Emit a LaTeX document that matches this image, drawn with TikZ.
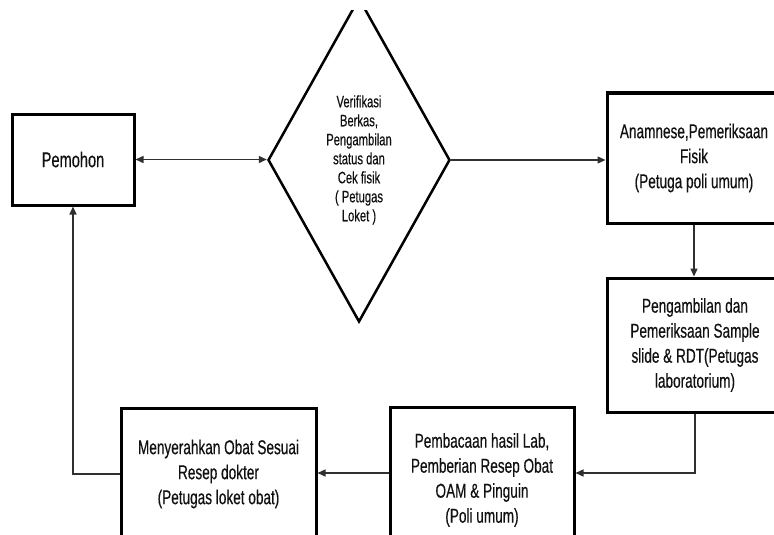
\documentclass[tikz,border=0pt]{standalone}
\usepackage{fontspec}
\setmainfont{Liberation Sans}[FakeStretch=0.68,FakeBold=0.4]
\usetikzlibrary{arrows.meta,shapes.geometric,calc}
\definecolor{txt}{HTML}{111111}
\definecolor{conn}{HTML}{303030}
\tikzset{
  box/.style={draw=black, line width=3pt, inner sep=0pt, text=txt, align=center,
    font=\fontsize{20}{25}\selectfont},
  dia/.style={draw=black, line width=2.5pt, shape=diamond, inner sep=0pt},
  diatext/.style={text=txt, align=center, inner sep=0pt, font=\fontsize{16.5}{19}\selectfont},
  btext/.style={text=txt, align=center, inner sep=0pt, font=\fontsize{20}{25}\selectfont},
  conn/.style={draw=conn, line width=1.4pt, -{Triangle[length=8pt,width=7pt]}},
  conn2/.style={draw=conn, line width=1.4pt, {Triangle[length=8pt,width=7pt]}-{Triangle[length=8pt,width=7pt]}}
}
\begin{document}
\begin{tikzpicture}[x=1pt,y=-1pt]
\useasboundingbox (0,0) rectangle (774,535);
\clip (0,0) rectangle (774,535);
\fill[white] (0,0) rectangle (774,535);
% Pemohon
\node[box, minimum width=122pt, minimum height=91pt, font=\fontsize{21.5}{25}\selectfont] (pem) at (73,159.5) {Pemohon};
% diamond
\begin{scope}
\clip (0,11) rectangle (774,535);
\node[dia, minimum width=182pt, minimum height=324pt] (dia) at (359,160) {};
\end{scope}
\node[diatext] (dtext) at (359,160) {Verifikasi\\Berkas,\\Pengambilan\\status dan\\Cek fisik\\( Petugas\\Loket )};
% Anamnese
\node[box, minimum width=174pt, minimum height=130pt] (ana) at (694,158) {Anamnese,Pemeriksaan\\Fisik\\(Petuga poli umum)};
% Lab
\node[box, minimum width=176pt, minimum height=134pt] (lab) at (695,345) {Pengambilan dan\\Pemeriksaan Sample\\slide \& RDT(Petugas\\laboratorium)};
% middle bottom
\node[box, minimum width=184pt, minimum height=146pt] (mid) at (482,480) {};
\node[btext] (midtext) at (482,480) {Pembacaan hasil Lab,\\Pemberian Resep Obat\\OAM \& Pinguin\\(Poli umum)};
% left bottom
\node[box, minimum width=195pt, minimum height=132pt] (obat) at (218.5,474) {Menyerahkan Obat Sesuai\\Resep dokter\\(Petugas loket obat)};
% connectors
\draw[conn2] (pem.east) -- (pem.east -| dia.west);
\draw[conn] (dia.east) -- (dia.east -| ana.west);
\draw[conn] (ana.south) -- (ana.south |- lab.north);
\path (mid.east) ++(0,-7) coordinate (midin);
\path (mid.west) ++(0,-7) coordinate (midout);
\draw[conn] (lab.south) |- (midin);
\draw[conn] (midout) -- (midout -| obat.east);
\draw[conn] (obat.west) -| (pem.south);
\end{tikzpicture}
\end{document}
